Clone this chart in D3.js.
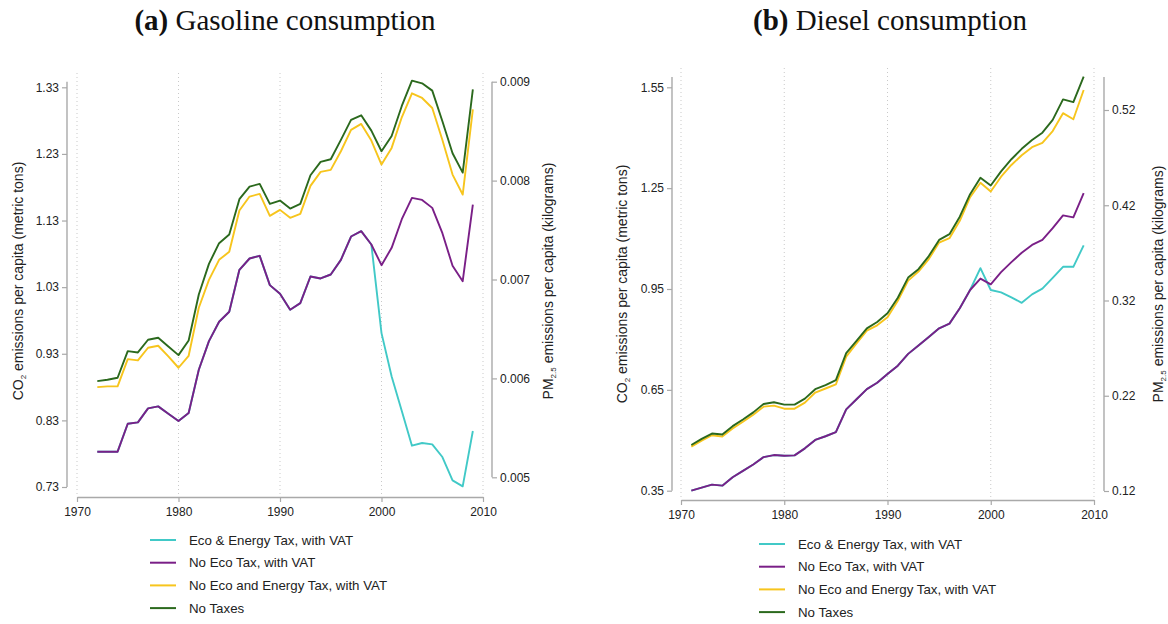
<!DOCTYPE html>
<html><head><meta charset="utf-8">
<script src="https://cdn.jsdelivr.net/npm/d3@7"></script>
<style>
body{margin:0;background:#fff;}
svg{display:block;font-family:"Liberation Sans",Arial,Helvetica,sans-serif;}
</style>
</head><body>
<svg id="chart" width="1168" height="624"></svg>
<script>
// ---------- DATA ----------
const seriesNames = ["Eco & Energy Tax, with VAT","No Eco Tax, with VAT","No Eco and Energy Tax, with VAT","No Taxes"];
const seriesColors = ["#41c9c7","#7a1f87","#f7c51d","#2b691d"];
const xTicks = [1970,1980,1990,2000,2010];

const gasYears = [1972,1973,1974,1975,1976,1977,1978,1979,1980,1981,1982,1983,1984,1985,1986,1987,1988,1989,1990,1991,1992,1993,1994,1995,1996,1997,1998,1999,2000,2001,2002,2003,2004,2005,2006,2007,2008,2009];
const gasEcoEnergy   = [0.783,0.783,0.783,0.825,0.827,0.848,0.851,0.840,0.829,0.841,0.906,0.949,0.978,0.993,1.056,1.073,1.077,1.033,1.020,0.996,1.006,1.046,1.043,1.049,1.071,1.106,1.114,1.094,0.961,0.896,0.844,0.792,0.796,0.794,0.775,0.740,0.731,0.814];
const gasNoEco       = [0.783,0.783,0.783,0.825,0.827,0.848,0.851,0.840,0.829,0.841,0.906,0.949,0.978,0.993,1.056,1.073,1.077,1.033,1.020,0.996,1.006,1.046,1.043,1.049,1.071,1.106,1.114,1.094,1.063,1.089,1.132,1.164,1.161,1.149,1.111,1.062,1.039,1.154];
const gasNoEcoEnergy = [0.880,0.881,0.881,0.922,0.920,0.939,0.942,0.926,0.909,0.927,0.999,1.041,1.071,1.083,1.145,1.166,1.170,1.137,1.146,1.134,1.140,1.182,1.203,1.206,1.234,1.266,1.275,1.250,1.214,1.239,1.285,1.321,1.314,1.299,1.251,1.199,1.169,1.297];
const gasNoTaxes     = [0.889,0.891,0.894,0.934,0.932,0.951,0.954,0.941,0.928,0.950,1.019,1.065,1.096,1.109,1.162,1.181,1.185,1.155,1.160,1.148,1.155,1.198,1.218,1.222,1.251,1.281,1.288,1.265,1.234,1.257,1.302,1.340,1.336,1.325,1.279,1.231,1.202,1.327];
const gasLeftTicks  = [0.73,0.83,0.93,1.03,1.13,1.23,1.33];
const gasRightTicks = [0.005,0.006,0.007,0.008,0.009];

const dslYears = [1971,1972,1973,1974,1975,1976,1977,1978,1979,1980,1981,1982,1983,1984,1985,1986,1987,1988,1989,1990,1991,1992,1993,1994,1995,1996,1997,1998,1999,2000,2001,2002,2003,2004,2005,2006,2007,2008,2009];
const dslEcoEnergy   = [0.350,0.359,0.368,0.365,0.390,0.409,0.428,0.450,0.456,0.454,0.455,0.476,0.501,0.512,0.524,0.592,0.622,0.652,0.671,0.697,0.722,0.757,0.782,0.807,0.833,0.847,0.893,0.947,1.012,0.947,0.940,0.925,0.909,0.934,0.951,0.983,1.016,1.016,1.080];
const dslNoEco       = [0.350,0.359,0.368,0.365,0.390,0.409,0.428,0.450,0.456,0.454,0.455,0.476,0.501,0.512,0.524,0.592,0.622,0.652,0.671,0.697,0.722,0.757,0.782,0.807,0.833,0.847,0.893,0.947,0.981,0.964,1.000,1.030,1.058,1.081,1.096,1.131,1.169,1.163,1.235];
const dslNoEcoEnergy = [0.481,0.499,0.515,0.511,0.535,0.555,0.576,0.600,0.603,0.594,0.594,0.612,0.642,0.654,0.666,0.749,0.788,0.826,0.842,0.866,0.915,0.975,1.002,1.039,1.088,1.101,1.153,1.223,1.266,1.240,1.284,1.319,1.348,1.372,1.385,1.420,1.473,1.455,1.542];
const dslNoTaxes     = [0.486,0.504,0.520,0.517,0.542,0.562,0.583,0.608,0.613,0.606,0.606,0.624,0.652,0.664,0.679,0.759,0.796,0.833,0.852,0.878,0.924,0.984,1.009,1.048,1.096,1.113,1.165,1.232,1.281,1.258,1.300,1.336,1.367,1.393,1.415,1.453,1.514,1.506,1.582];
const dslLeftTicks  = [0.35,0.65,0.95,1.25,1.55];
const dslRightTicks = [0.12,0.22,0.32,0.42,0.52];

// ---------- DRAW ----------
const svg = d3.select("#chart");
const AXIS_COLOR = "#a9a9a9";
const TEXT_COLOR = "#222";

function drawPanel(p) {
  const g = svg.append("g");
  const x = d3.scaleLinear().domain([xTicks[0], xTicks[xTicks.length-1]]).range([p.x0, p.x1]);
  const yL = d3.scaleLinear().domain([p.leftTicks[0], p.leftTicks[p.leftTicks.length-1]]).range([p.yL0, p.yL1]);
  const yR = d3.scaleLinear().domain([p.rightTicks[0], p.rightTicks[p.rightTicks.length-1]]).range([p.yR0, p.yR1]);

  // title
  const t = g.append("text").attr("x", p.titleX).attr("y", 30).attr("text-anchor","middle")
    .attr("font-family","'Liberation Serif','Times New Roman',serif").attr("font-size", 29).attr("fill","#111");
  t.append("tspan").attr("font-weight","bold").text(p.titleTag);
  t.append("tspan").text(" " + p.title);

  // gridlines
  g.append("g").selectAll("line").data(xTicks).join("line")
    .attr("x1", d => x(d)).attr("x2", d => x(d))
    .attr("y1", p.gridTop).attr("y2", p.xAxisY)
    .attr("stroke", "#c9c9c9").attr("stroke-width", 1).attr("stroke-dasharray", "1,3");

  // x axis
  const xa = g.append("g").attr("transform", `translate(0,${p.xAxisY})`)
    .call(d3.axisBottom(x).tickValues(xTicks).tickFormat(d3.format("d")).tickSize(5).tickSizeOuter(0).tickPadding(5));
  styleAxis(xa);

  // left axis
  const la = g.append("g").attr("transform", `translate(${p.axisLX},0)`)
    .call(d3.axisLeft(yL).tickValues(p.leftTicks).tickFormat(d3.format(".2f")).tickSize(5).tickPadding(3));
  styleAxis(la);
  la.select(".domain").remove();
  g.append("line").attr("x1", p.axisLX).attr("x2", p.axisLX).attr("y1", p.axisLTop).attr("y2", p.yL0)
    .attr("stroke", AXIS_COLOR).attr("stroke-width", 1.4);

  // right axis
  const ra = g.append("g").attr("transform", `translate(${p.axisRX},0)`)
    .call(d3.axisRight(yR).tickValues(p.rightTicks).tickFormat(d3.format(p.rightFmt)).tickSize(5).tickPadding(3));
  styleAxis(ra);
  ra.select(".domain").remove();
  g.append("line").attr("x1", p.axisRX).attr("x2", p.axisRX).attr("y1", p.axisRTop).attr("y2", p.yR0)
    .attr("stroke", AXIS_COLOR).attr("stroke-width", 1.4);

  // axis titles
  const lt = g.append("text").attr("transform", `translate(${p.leftTitleX},${p.titleMidY}) rotate(-90)`)
    .attr("text-anchor","middle").attr("font-size", 14).attr("fill", TEXT_COLOR);
  lt.append("tspan").text("CO");
  lt.append("tspan").attr("font-size", 8).attr("dy", 3).text("2");
  lt.append("tspan").attr("dy", -3).text(" emissions per capita (metric tons)");

  const rt = g.append("text").attr("transform", `translate(${p.rightTitleX},${p.titleMidY}) rotate(-90)`)
    .attr("text-anchor","middle").attr("font-size", 14).attr("fill", TEXT_COLOR);
  rt.append("tspan").text("PM");
  rt.append("tspan").attr("font-size", 8).attr("dy", 3).text("2.5");
  rt.append("tspan").attr("dy", -3).text(" emissions per capita (kilograms)");

  // lines
  const line = d3.line().x(d => x(d[0])).y(d => yL(d[1]));
  p.series.forEach((s, i) => {
    const pts = p.years.map((yr, k) => [yr, s[k]]);
    g.append("path").datum(pts).attr("d", line).attr("fill","none")
      .attr("stroke", seriesColors[i]).attr("stroke-width", 1.9).attr("stroke-linejoin","round");
  });

  // legend
  const lg = g.append("g");
  seriesNames.forEach((name, i) => {
    const yy = p.legY + i * p.legStep;
    lg.append("line").attr("x1", p.legX).attr("x2", p.legX + 26).attr("y1", yy).attr("y2", yy)
      .attr("stroke", seriesColors[i]).attr("stroke-width", 2);
    lg.append("text").attr("x", p.legX + 39).attr("y", yy).attr("dy","0.35em")
      .attr("font-size", 13.3).attr("fill", TEXT_COLOR).text(name);
  });
}

function styleAxis(a) {
  a.select(".domain").attr("stroke", AXIS_COLOR).attr("stroke-width", 1.4);
  a.selectAll(".tick line").attr("stroke", AXIS_COLOR).attr("stroke-width", 1.2);
  a.selectAll(".tick text").attr("fill", TEXT_COLOR).attr("font-size", 12)
    .attr("font-family", "'Liberation Sans',Arial,sans-serif");
}

drawPanel({
  titleTag: "(a)", title: "Gasoline consumption", titleX: 285,
  years: gasYears, series: [gasEcoEnergy, gasNoEco, gasNoEcoEnergy, gasNoTaxes],
  leftTicks: gasLeftTicks, rightTicks: gasRightTicks, rightFmt: ".3f",
  x0: 77, x1: 483, yL0: 487, yL1: 87.3, yR0: 477.3, yR1: 81.7,
  xAxisY: 497, gridTop: 73, axisLX: 67, axisLTop: 81.7, axisRX: 492, axisRTop: 81.7,
  leftTitleX: 23, rightTitleX: 553, titleMidY: 281,
  legX: 150, legY: 540, legStep: 22.7
});

drawPanel({
  titleTag: "(b)", title: "Diesel consumption", titleX: 890,
  years: dslYears, series: [dslEcoEnergy, dslNoEco, dslNoEcoEnergy, dslNoTaxes],
  leftTicks: dslLeftTicks, rightTicks: dslRightTicks, rightFmt: ".2f",
  x0: 681, x1: 1094, yL0: 490.7, yL1: 87.3, yR0: 491, yR1: 110,
  xAxisY: 500, gridTop: 68, axisLX: 672, axisLTop: 77, axisRX: 1104, axisRTop: 77,
  leftTitleX: 627, rightTitleX: 1163, titleMidY: 284,
  legX: 759, legY: 544, legStep: 22.7
});
</script>
</body></html>
